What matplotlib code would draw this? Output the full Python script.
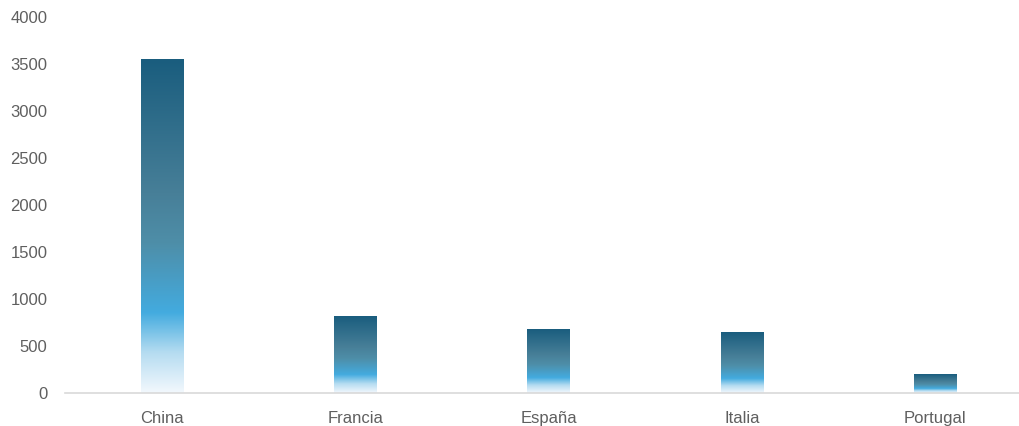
import numpy as np
import matplotlib.pyplot as plt
from matplotlib.colors import LinearSegmentedColormap

paises = ['China', 'Francia', 'España', 'Italia', 'Portugal']
valores = [3550, 815, 680, 645, 200]

# gradient from bottom (light) to top (dark teal)
cmap = LinearSegmentedColormap.from_list('grad', [
    (0.0, '#f2f8fd'),
    (0.12, '#b5dcf1'),
    (0.24, '#43abdf'),
    (0.45, '#4e8ea8'),
    (0.6, '#477f98'),
    (1.0, '#1a5d7e'),
])

fig = plt.figure(figsize=(10.2, 4.26), dpi=100)
ax = fig.add_axes([65.5 / 1020, 33 / 426, 1 - 65.5 / 1020, (393 - 17) / 426])

x = np.arange(len(paises))
bars = ax.bar(x, valores, width=0.22, color='none', edgecolor='none')

grad = np.linspace(0, 1, 256).reshape(-1, 1)
for b in bars:
    x0 = b.get_x()
    ax.imshow(grad, cmap=cmap, origin='lower', aspect='auto',
              extent=[x0, x0 + b.get_width(), 0, b.get_height()], zorder=2)

ax.set_xlim(-0.5, 4.438)
ax.set_ylim(0, 4000)
ax.set_yticks(np.arange(0, 4001, 500))
ax.set_xticks(x)
ax.set_xticklabels(paises)

for s in ['top', 'right', 'left']:
    ax.spines[s].set_visible(False)
ax.spines['bottom'].set_color('#d9d9d9')
ax.spines['bottom'].set_linewidth(1.2)
ax.tick_params(axis='both', length=0, labelsize=12, labelcolor='#5f5f5f')
ax.tick_params(axis='y', pad=13)
ax.tick_params(axis='x', pad=13)
for t in ax.get_xticklabels() + ax.get_yticklabels():
    t.set_family('Liberation Sans')

fig.savefig('out.png', dpi=100)
